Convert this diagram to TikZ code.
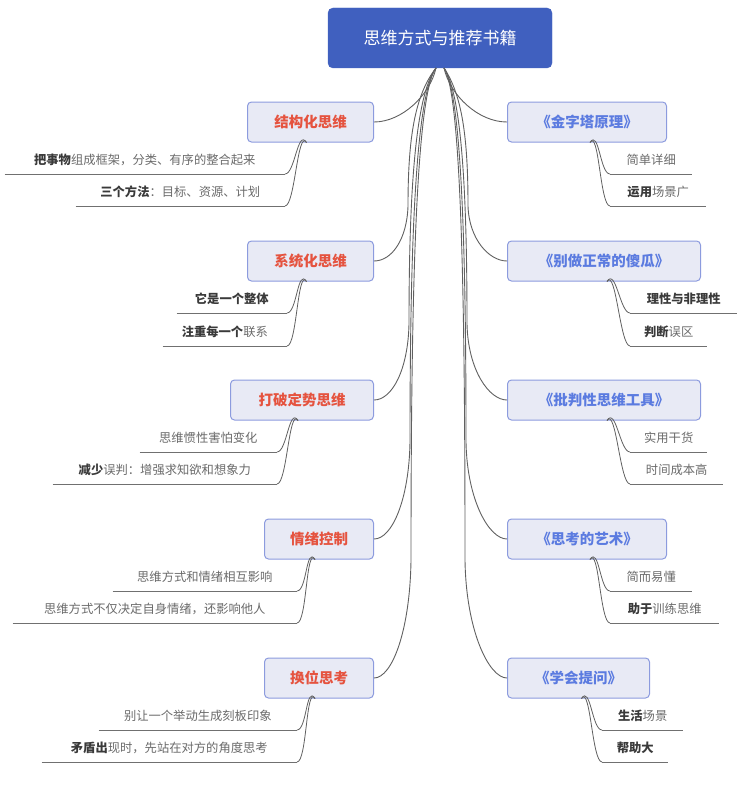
\documentclass[tikz,border=0pt]{standalone}
\usepackage{fontspec}
\setmainfont{Noto Sans CJK SC}
\definecolor{rootblue}{HTML}{4060BF}
\definecolor{boxfill}{HTML}{E8EAF5}
\definecolor{boxdraw}{HTML}{8C9BDE}
\definecolor{redtxt}{HTML}{E5533F}
\definecolor{bluetxt}{HTML}{5B7BE0}
\definecolor{graytxt}{HTML}{6A6A6A}
\definecolor{darktxt}{HTML}{3A3A3A}
\definecolor{linegray}{HTML}{707070}
\definecolor{conngray}{HTML}{606060}
\newcommand\darkpart[1]{{\bfseries\color{darktxt}#1}}
\begin{document}
\begin{tikzpicture}[x=1pt,y=-1pt,
  rootnode/.style={fill=rootblue,draw=rootblue,rounded corners=5pt,minimum width=224pt,minimum height=60pt,inner sep=0pt,text=white,font=\fontsize{17}{20}\selectfont},
  lbox/.style={fill=boxfill,draw=boxdraw,line width=1pt,rounded corners=4pt,minimum height=40pt,inner sep=0pt,text=redtxt,font=\fontsize{14.5}{17}\selectfont\bfseries,anchor=east},
  rbox/.style={lbox,text=bluetxt,anchor=west},
  lchild/.style={minimum height=28pt,inner sep=0pt,anchor=south east,text=graytxt,font=\fontsize{12.3}{14}\selectfont},
  rchild/.style={lchild,anchor=south west},
  uline/.style={draw=linegray,line width=0.8pt},
  conn/.style={draw=conngray,line width=0.9pt},
  subconn/.style={draw=conngray,line width=0.8pt}]
\useasboundingbox (0,0) rectangle (746,792);

% root
\node[rootnode] (root) at (440,38) {思维方式与推荐书籍};
\coordinate (rl) at (436,68);
\coordinate (rr) at (444,68);

% left boxes
\node[lbox,minimum width=126pt] (a1) at (374,122) {结构化思维};
\node[lbox,minimum width=126pt] (a2) at (374,261) {系统化思维};
\node[lbox,minimum width=143pt] (a3) at (374,400) {打破定势思维};
\node[lbox,minimum width=109pt] (a4) at (374,539) {情绪控制};
\node[lbox,minimum width=109pt] (a5) at (374,678) {换位思考};

% right boxes
\node[rbox,minimum width=159pt] (b1) at (507,122) {《金字塔原理》};
\node[rbox,minimum width=193pt] (b2) at (507,261) {《别做正常的傻瓜》};
\node[rbox,minimum width=193pt] (b3) at (507,400) {《批判性思维工具》};
\node[rbox,minimum width=159pt] (b4) at (507,539) {《思考的艺术》};
\node[rbox,minimum width=142pt] (b5) at (507,678) {《学会提问》};

% root connectors
\draw[conn] (rl) .. controls (430,95) and (402,122) .. (a1.east);
\draw[conn] (rl) .. controls (415,95) and (408,137) .. (408,206) .. controls (407,239) and (392,261) .. (a2.east);
\draw[conn] (rl) .. controls (415,95) and (409,196) .. (409,324) .. controls (408,370) and (392,400) .. (a3.east);
\draw[conn] (rl) .. controls (415,95) and (410,255) .. (410,442) .. controls (409,500) and (392,539) .. (a4.east);
\draw[conn] (rl) .. controls (415,95) and (411,314) .. (411,560) .. controls (410,631) and (392,678) .. (a5.east);
\draw[conn] (rr) .. controls (450,95) and (478,122) .. (b1.west);
\draw[conn] (rr) .. controls (462,95) and (468,137) .. (468,206) .. controls (469,239) and (489,261) .. (b2.west);
\draw[conn] (rr) .. controls (462,95) and (467,196) .. (467,324) .. controls (468,370) and (489,400) .. (b3.west);
\draw[conn] (rr) .. controls (462,95) and (466,255) .. (466,442) .. controls (467,500) and (489,539) .. (b4.west);
\draw[conn] (rr) .. controls (462,95) and (465,314) .. (465,560) .. controls (466,631) and (489,678) .. (b5.west);

% left children
\node[lchild,minimum width=280pt] (a11) at (285,174) {\darkpart{把事物}组成框架，分类、有序的整合起来};
\node[lchild,minimum width=209pt] (a12) at (285,206) {\darkpart{三个方法}：目标、资源、计划};
\node[lchild,minimum width=110pt] (a21) at (287,313) {\darkpart{它是一个整体}};
\node[lchild,minimum width=124pt] (a22) at (287,346) {\darkpart{注重每一个}联系};
\node[lchild,minimum width=137pt] (a31) at (277,452) {思维惯性害怕变化};
\node[lchild,minimum width=224pt] (a32) at (277,484) {\darkpart{减少}误判：增强求知欲和想象力};
\node[lchild,minimum width=184pt] (a41) at (297,591) {思维方式和情绪相互影响};
\node[lchild,minimum width=284pt] (a42) at (297,623) {思维方式不仅决定自身情绪，还影响他人};
\node[lchild,minimum width=198pt] (a51) at (297,730) {别让一个举动生成刻板印象};
\node[lchild,minimum width=255pt] (a52) at (297,762) {\darkpart{矛盾出}现时，先站在对方的角度思考};

% right children
\node[rchild,minimum width=82pt] (b11) at (610,174) {简单详细};
\node[rchild,minimum width=96pt] (b12) at (610,206) {\darkpart{运用}场景广};
\node[rchild,minimum width=107pt] (b21) at (630,313) {\darkpart{理性与非理性}};
\node[rchild,minimum width=77pt] (b22) at (630,346) {\darkpart{判断}误区};
\node[rchild,minimum width=77pt] (b31) at (630,452) {实用干货};
\node[rchild,minimum width=93pt] (b32) at (630,484) {时间成本高};
\node[rchild,minimum width=82pt] (b41) at (610,591) {简而易懂};
\node[rchild,minimum width=109pt] (b42) at (610,623) {\darkpart{助于}训练思维};
\node[rchild,minimum width=81pt] (b51) at (602,730) {\darkpart{生活}场景};
\node[rchild,minimum width=66pt] (b52) at (602,762) {\darkpart{帮助大}};

% underlines
\foreach \n in {a11,a12,a21,a22,a31,a32,a41,a42,a51,a52,b11,b12,b21,b22,b31,b32,b41,b42,b51,b52}
  \draw[uline] (\n.south west) -- (\n.south east);

% child connectors (left)
\foreach \p/\c in {a1/a11,a1/a12,a2/a21,a2/a22,a3/a31,a3/a32,a4/a41,a4/a42,a5/a51,a5/a52}
  \draw[subconn] ([xshift=-4pt]\p.south) .. controls ([xshift=-13pt,yshift=14pt]\p.south) and ([xshift=10pt]\c.south east) .. (\c.south east);
% child connectors (right)
\foreach \p/\c in {b1/b11,b1/b12,b2/b21,b2/b22,b3/b31,b3/b32,b4/b41,b4/b42,b5/b51,b5/b52}
  \draw[subconn] ([xshift=3pt]\p.south) .. controls ([xshift=12pt,yshift=14pt]\p.south) and ([xshift=-10pt]\c.south west) .. (\c.south west);
\end{tikzpicture}
\end{document}
